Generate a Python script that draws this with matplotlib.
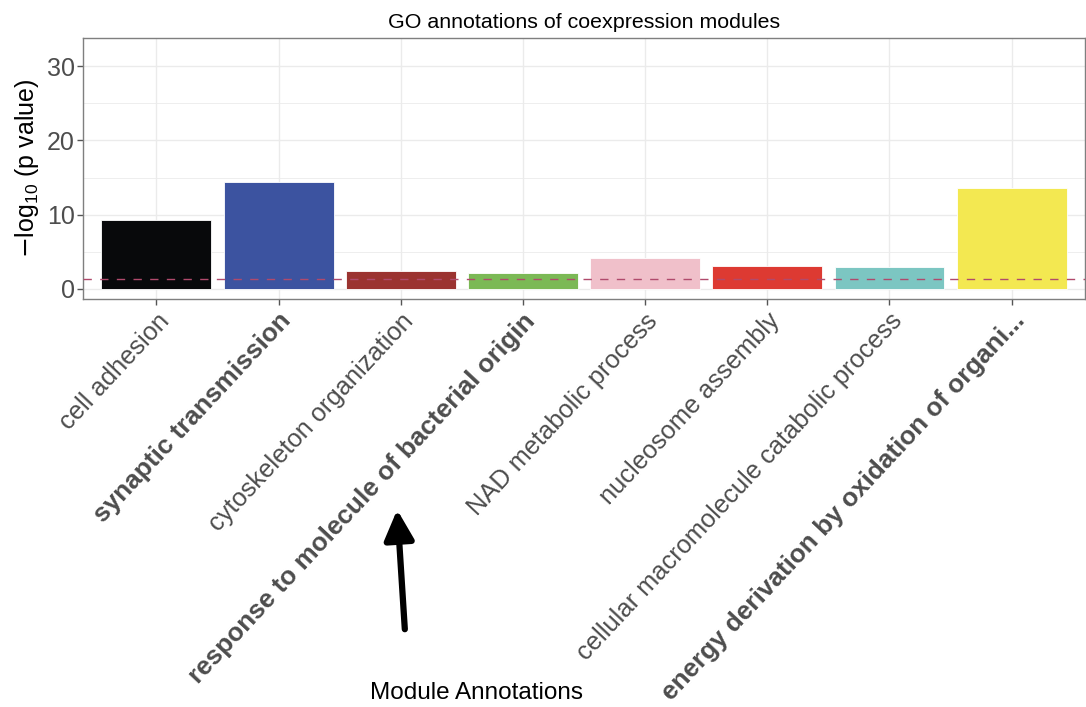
import matplotlib
matplotlib.use("Agg")
import matplotlib.pyplot as plt
from matplotlib.ticker import MultipleLocator

plt.rcParams['font.family'] = ['Liberation Sans', 'DejaVu Sans']

categories = ["cell adhesion", "synaptic transmission", "cytoskeleton organization",
              "response to molecule of bacterial origin", "NAD metabolic process",
              "nucleosome assembly", "cellular macromolecule catabolic process",
              "energy derivation by oxidation of organi..."]
values = [9.3, 14.4, 2.4, 2.15, 4.2, 3.1, 2.95, 13.6]
colors = ["#08090b", "#3c53a0", "#9b3330", "#7bb955", "#f0c0ca", "#dd3a32", "#7cc6c2", "#f3e851"]
bold = [False, True, False, True, False, False, False, True]
threshold = 1.30103

fig = plt.figure(figsize=(10.86, 7.07), dpi=100)
ax = fig.add_axes([83/1086, 1-299/707, 1002/1086, 261/707])

x = list(range(1, len(categories)+1))
ax.bar(x, values, width=0.9, color=colors, edgecolor="white", linewidth=0.6, zorder=2)
ax.axhline(threshold, color="#b04a6c", linestyle=(0, (6, 6)), linewidth=1.0, zorder=3)

ax.set_xlim(0.4, 8.6)
ax.set_ylim(-1.35, 33.8)
ax.yaxis.set_major_locator(MultipleLocator(10))
ax.yaxis.set_minor_locator(MultipleLocator(5))
ax.set_xticks(x)
ax.grid(True, which="major", color="#ebebeb", linewidth=1.0, zorder=0)
ax.grid(True, which="minor", axis="y", color="#ebebeb", linewidth=0.6, zorder=0)
ax.set_axisbelow(True)
for s in ax.spines.values():
    s.set_color("#7f7f7f")
    s.set_linewidth(1.0)
ax.tick_params(axis="both", which="major", color="#555555", length=4, width=1)
ax.tick_params(axis="y", which="minor", length=0)
ax.tick_params(axis="y", labelsize=18, labelcolor="#4d4d4d", pad=2)

ax.set_xticklabels(categories, rotation=47, ha="right", va="top", rotation_mode="anchor",
                   fontsize=18.3, color="#4d4d4d")
for lbl, b in zip(ax.get_xticklabels(), bold):
    if b:
        lbl.set_fontweight("bold")
        lbl.set_fontsize(18.8)
ax.tick_params(axis="x", pad=3)

ax.set_ylabel(r"$-\mathregular{log_{10}}$ (p value)", fontsize=18, color="black", labelpad=4)
ax.set_title("GO annotations of coexpression modules", fontsize=15.4, pad=7)

fig.text(476/1086, 1-693/707, "Module Annotations", fontsize=17.5, ha="center", va="center")
fig.add_artist(matplotlib.patches.FancyArrowPatch(
    (405/1086, 1-632/707), (397/1086, 1-507/707), transform=fig.transFigure,
    arrowstyle="-|>,head_length=12,head_width=6", mutation_scale=1.5,
    color="black", linewidth=4.5))

fig.savefig("out.png", dpi=100)
